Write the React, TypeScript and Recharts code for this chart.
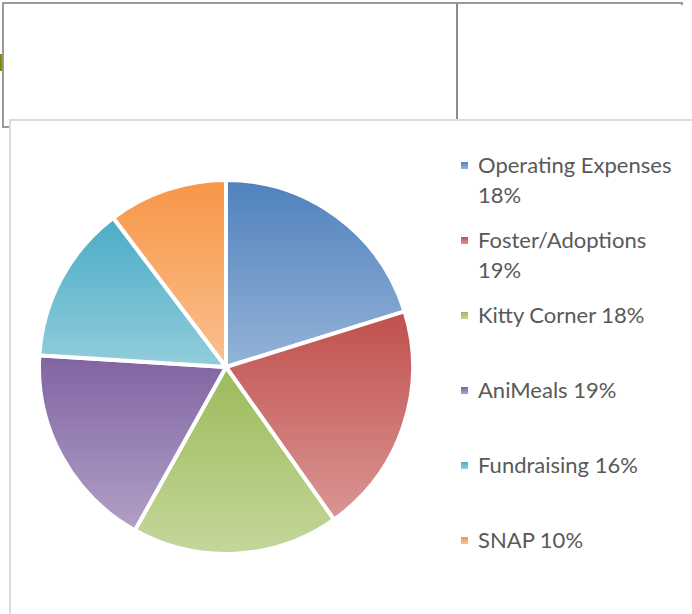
import React from "react";
import { PieChart, Pie, Cell, Legend } from "recharts";

const categories = [
  "Operating Expenses 18%",
  "Foster/Adoptions 19%",
  "Kitty Corner 18%",
  "AniMeals 19%",
  "Fundraising 16%",
  "SNAP 10%",
];
const values = [20.2, 20.0, 17.9, 17.9, 13.7, 10.3];
const topColors = ["#4f81bd", "#c0504d", "#9bbb59", "#8064a2", "#4bacc6", "#f79646"];
const bottomColors = ["#95b3d7", "#da9694", "#c4d79b", "#b1a0c7", "#92cddc", "#fac090"];

const data = categories.map((name, i) => ({ name, value: values[i] }));

const FONT = "Lato, 'Open Sans', sans-serif";

const LegendContent = () => {
  return (
    <div style={{ width: 237, fontFamily: FONT }}>
      {categories.map((name, i) => (
        <div key={i} style={{ position: "relative", height: 75 }}>
          <div
            style={{
              position: "absolute",
              left: 6,
              top: 12,
              width: 7,
              height: 7,
              background: `linear-gradient(${topColors[i]}, ${bottomColors[i]})`,
            }}
          />
          <div
            style={{
              position: "absolute",
              left: 23,
              top: 0,
              width: 205,
              fontSize: 22,
              lineHeight: "30px",
              color: "#595959",
            }}
          >
            {name}
          </div>
        </div>
      ))}
    </div>
  );
};

export default function App() {
  return (
    <div style={{ position: "absolute", left: 0, top: 0, width: 692, height: 614, background: "#fff", overflow: "hidden" }}>
      {/* spreadsheet frame lines */}
      <div style={{ position: "absolute", left: 2, top: 2, width: 681, height: 2, background: "#9a9a9a" }} />
      <div style={{ position: "absolute", left: 681, top: 2, width: 2, height: 3, background: "#9a9a9a" }} />
      <div style={{ position: "absolute", left: 2, top: 2, width: 2, height: 126, background: "#9a9a9a" }} />
      <div style={{ position: "absolute", left: 2, top: 126, width: 7, height: 2, background: "#9a9a9a" }} />
      <div style={{ position: "absolute", left: 456, top: 3, width: 2, height: 116, background: "#8c8c8c" }} />
      <div style={{ position: "absolute", left: 0, top: 54, width: 2, height: 17, background: "#8b8b00" }} />
      {/* chart area border */}
      <div style={{ position: "absolute", left: 9, top: 119, width: 683, height: 495, borderTop: "2px solid #dcdcdc", borderLeft: "2px solid #dcdcdc", boxSizing: "border-box", background: "#fff" }} />
      <div style={{ position: "absolute", left: 0, top: 0 }}>
        <PieChart width={692} height={614} margin={{ top: 0, right: 0, bottom: 0, left: 0 }}>
          <defs>
            {topColors.map((c, i) => (
              <linearGradient key={i} id={`grad${i}`} x1="0" y1="0" x2="0" y2="1">
                <stop offset="0%" stopColor={c} />
                <stop offset="100%" stopColor={bottomColors[i]} />
              </linearGradient>
            ))}
          </defs>
          <Pie
            data={data}
            dataKey="value"
            nameKey="name"
            cx={226}
            cy={367}
            outerRadius={187}
            startAngle={90}
            endAngle={-270}
            stroke="#ffffff"
            strokeWidth={4}
            isAnimationActive={false}
            legendType="square"
          >
            {data.map((d, i) => (
              <Cell key={i} fill={`url(#grad${i})`} />
            ))}
          </Pie>
          <Legend
            layout="vertical"
            align="right"
            verticalAlign="top"
            content={<LegendContent />}
            wrapperStyle={{ position: "absolute", left: 455, top: 150, width: 237 }}
          />
        </PieChart>
      </div>
    </div>
  );
}
